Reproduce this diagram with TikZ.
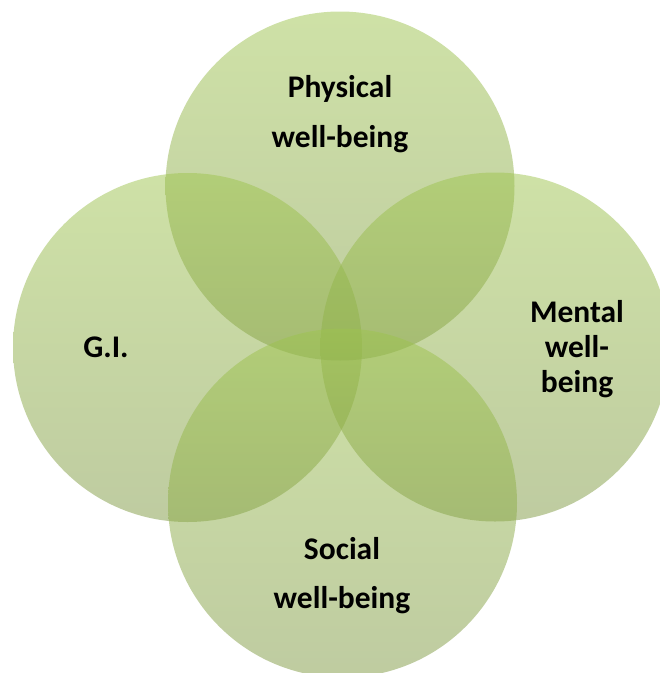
\documentclass[tikz,border=0pt]{standalone}
\usepackage{fontspec}
\setmainfont{Carlito}
\definecolor{gtop}{RGB}{158,196,78}
\definecolor{gbot}{RGB}{126,152,66}
\tikzset{
  bubble/.style={circle, minimum size=349pt, inner sep=0pt, top color=gtop, bottom color=gbot, fill opacity=0.5, draw=none},
  lbl/.style={font=\bfseries\fontsize{31.5}{38}\selectfont, text=black, anchor=base, inner sep=0pt}
}
\begin{document}
\begin{tikzpicture}[x=1pt,y=-1pt]
\useasboundingbox (0,0) rectangle (660,673);
\node[bubble] (top) at (340,186) {};
\node[bubble] (left) at (187.5,347.5) {};
\node[bubble] (right) at (495,347) {};
\node[bubble] (bottom) at (342.5,503) {};
\node[lbl] (tl1) at (340,97) {Physical};
\node[lbl] (tl2) at (340,147) {well-being};
\node[lbl] (rl1) at (577,322) {Mental};
\node[lbl] (rl2) at (577,357) {well-};
\node[lbl] (rl3) at (577,392) {being};
\node[lbl] (ll) at (106,357) {G.I.};
\node[lbl] (bl1) at (342,559) {Social};
\node[lbl] (bl2) at (342,608) {well-being};
\end{tikzpicture}
\end{document}
